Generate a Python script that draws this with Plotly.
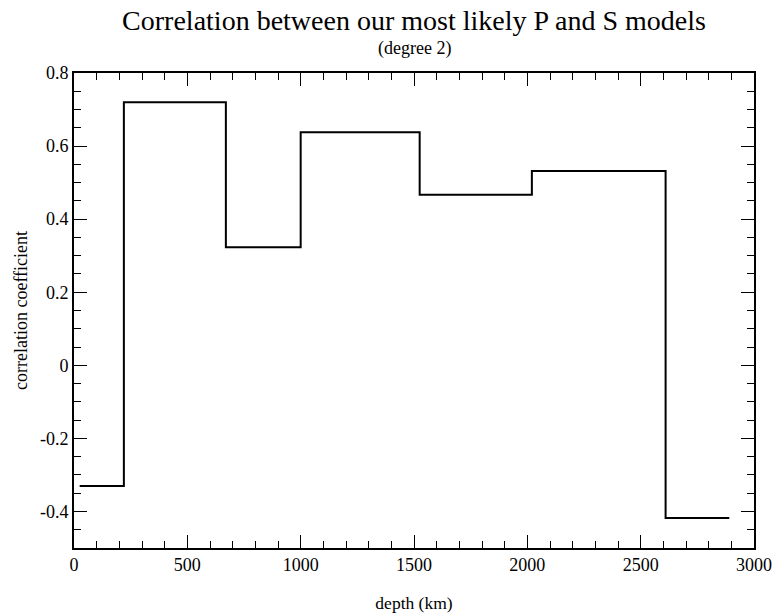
import plotly.graph_objects as go

# Layer boundaries (km) and P-S correlation in each layer
depth_km = [25, 220, 670, 1000, 1525, 2020, 2610, 2891]
corr = [-0.33, 0.72, 0.323, 0.638, 0.467, 0.532, -0.418]

x_ticks = [0, 500, 1000, 1500, 2000, 2500, 3000]
y_ticks = [-0.4, -0.2, 0, 0.2, 0.4, 0.6, 0.8]
y_tick_text = ["-0.4", "-0.2", "0", "0.2", "0.4", "0.6", "0.8"]

# step line: each value holds until the next boundary
y_step = corr + [corr[-1]]

FONT = "Liberation Serif"

fig = go.Figure()
fig.add_trace(go.Scatter(
    x=depth_km, y=y_step, mode="lines",
    line=dict(shape="hv", color="black", width=2),
    showlegend=False, hoverinfo="skip",
))

axis_common = dict(
    showgrid=False, zeroline=False, showline=True, linecolor="black",
    linewidth=1.6, mirror="allticks", ticks="inside", tickcolor="black",
    tickwidth=1.2, ticklen=13, automargin=False,
    tickfont=dict(family=FONT, size=18, color="black"),
)

fig.update_xaxes(
    range=[0, 3000], tickvals=x_ticks,
    minor=dict(dtick=100, ticks="inside", ticklen=7, tickcolor="black", tickwidth=1.2),
    title=dict(text="depth (km)", font=dict(family=FONT, size=17.5, color="black"), standoff=22),
    **axis_common,
)
fig.update_yaxes(
    range=[-0.5, 0.8], tickvals=y_ticks, ticktext=y_tick_text,
    minor=dict(dtick=0.05, tick0=0, ticks="inside", ticklen=7, tickcolor="black", tickwidth=1.2),
    title=dict(text="correlation coefficient", font=dict(family=FONT, size=18, color="black"), standoff=8),
    **axis_common,
)

fig.update_layout(
    width=774, height=616,
    margin=dict(l=73.5, r=19.7, t=72.7, b=67.7),
    paper_bgcolor="white", plot_bgcolor="white",
    title=dict(
        text="Correlation between our most likely P and S models",
        font=dict(family=FONT, size=28, color="black"),
        x=414 / 774, xanchor="center", y=1 - 20 / 616, yanchor="middle",
    ),
    annotations=[dict(
        text="(degree 2)", xref="paper", yref="paper",
        x=0.5, y=1 + 24.5 / 475.6, xanchor="center", yanchor="middle",
        showarrow=False, font=dict(family=FONT, size=18, color="black"),
    )],
)

fig.write_html("out.html")
